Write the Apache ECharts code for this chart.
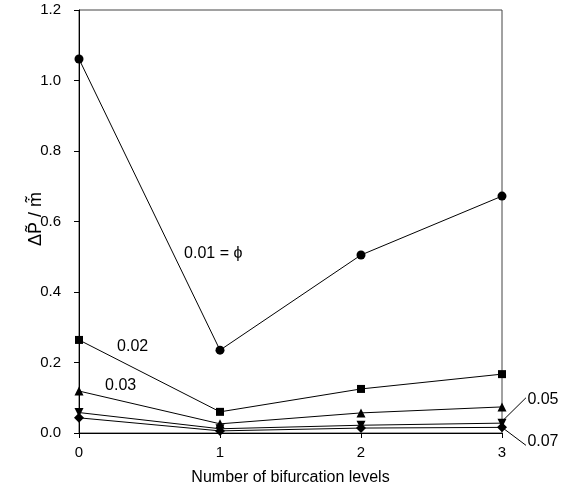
<!DOCTYPE html>
<html>
<head>
<meta charset="utf-8">
<script src="https://cdn.jsdelivr.net/npm/echarts@6/dist/echarts.min.js"></script>
<style>
  html, body { margin: 0; padding: 0; background: #fff; }
  #chart { width: 566px; height: 493px; }
</style>
</head>
<body>
<div id="chart"></div>
<script>
// Bifurcation levels on the x axis
const levels = [0, 1, 2, 3];

// Dimensionless pressure drop per mass flow, one series per porosity
const phi001 = [1.061, 0.235, 0.505, 0.672];
const phi002 = [0.264, 0.060, 0.125, 0.167];
const phi003 = [0.119, 0.026, 0.057, 0.074];
const phi005 = [0.058, 0.012, 0.022, 0.028];
const phi007 = [0.043, 0.006, 0.014, 0.016];

const yTicks = [0.0, 0.2, 0.4, 0.6, 0.8, 1.0, 1.2];

const FONT = 'Liberation Sans, Arial, sans-serif';
const downTriangle = 'path://M0,0 L10,0 L5,9 Z';

function pairs(vals) { return levels.map((x, i) => [x, vals[i]]); }

function lineSeries(name, vals, symbol, size) {
  return {
    name: name,
    type: 'line',
    data: pairs(vals),
    symbol: symbol,
    symbolSize: size,
    showAllSymbol: true,
    lineStyle: { color: '#000', width: 1 },
    itemStyle: { color: '#000' },
    z: 3
  };
}

const chart = echarts.init(document.getElementById('chart'));
chart.setOption({
  animation: false,
  backgroundColor: '#fff',
  grid: {
    left: 79, right: 64, top: 10, bottom: 60,
    show: true, borderColor: '#444', borderWidth: 1, backgroundColor: 'transparent'
  },
  xAxis: {
    type: 'value', min: 0, max: 3, interval: 1,
    name: 'Number of bifurcation levels',
    nameLocation: 'middle', nameGap: 37,
    nameTextStyle: { fontFamily: FONT, fontSize: 16, color: '#000' },
    axisLine: { show: true, lineStyle: { color: '#000', width: 1 } },
    axisTick: { show: true, inside: false, length: 5, lineStyle: { color: '#000' } },
    axisLabel: { fontFamily: FONT, fontSize: 15, color: '#000', margin: 12 },
    splitLine: { show: false }
  },
  yAxis: {
    type: 'value', min: 0, max: 1.2, interval: 0.2,
    axisLine: { show: true, lineStyle: { color: '#000', width: 1 } },
    axisTick: { show: true, inside: false, length: 5, lineStyle: { color: '#000' } },
    axisLabel: {
      fontFamily: FONT, fontSize: 15, color: '#000', margin: 18,
      formatter: v => {
        const t = yTicks.find(k => Math.abs(k - v) < 1e-9);
        return (t !== undefined ? t : v).toFixed(1);
      }
    },
    splitLine: { show: false }
  },
  series: [
    lineSeries('0.01', phi001, 'circle', 9),
    lineSeries('0.02', phi002, 'rect', 8),
    lineSeries('0.03', phi003, 'triangle', 9),
    lineSeries('0.05', phi005, downTriangle, 9),
    lineSeries('0.07', phi007, 'diamond', 10)
  ]
});

// Series annotations, anchored in data coordinates
const notes = [
  { text: '0.01 = \u03D5', at: [0.745, 0.51] },
  { text: '0.02', at: [0.27, 0.245] },
  { text: '0.03', at: [0.185, 0.135] }
];
const leaders = [
  { text: '0.05', from: [3.01, 0.037], to: [3.17, 0.10], label: [3.18, 0.094] },
  { text: '0.07', from: [3.01, 0.013], to: [3.17, -0.035], label: [3.18, -0.024] }
];

const g = [];
notes.forEach(n => {
  const p = chart.convertToPixel({ gridIndex: 0 }, n.at);
  g.push({
    type: 'text', x: p[0], y: p[1],
    style: { text: n.text, font: '16px ' + FONT, fill: '#000', align: 'left', verticalAlign: 'middle' }
  });
});
leaders.forEach(n => {
  const a = chart.convertToPixel({ gridIndex: 0 }, n.from);
  const b = chart.convertToPixel({ gridIndex: 0 }, n.to);
  const c = chart.convertToPixel({ gridIndex: 0 }, n.label);
  g.push({
    type: 'line',
    shape: { x1: a[0], y1: a[1], x2: b[0], y2: b[1] },
    style: { stroke: '#000', lineWidth: 1 }
  });
  g.push({
    type: 'text', x: c[0], y: c[1],
    style: { text: n.text, font: '16px ' + FONT, fill: '#000', align: 'left', verticalAlign: 'middle' }
  });
});

// Y axis title: rotated ΔP̃ / ṁ̃
g.push({
  type: 'text', x: 36, y: 219, rotation: Math.PI / 2,
  style: {
    text: '\u0394P\u0303 / m\u0307\u0303',
    font: '18px ' + FONT, fill: '#000', align: 'center', verticalAlign: 'middle'
  }
});

chart.setOption({ graphic: g });
</script>
</body>
</html>
